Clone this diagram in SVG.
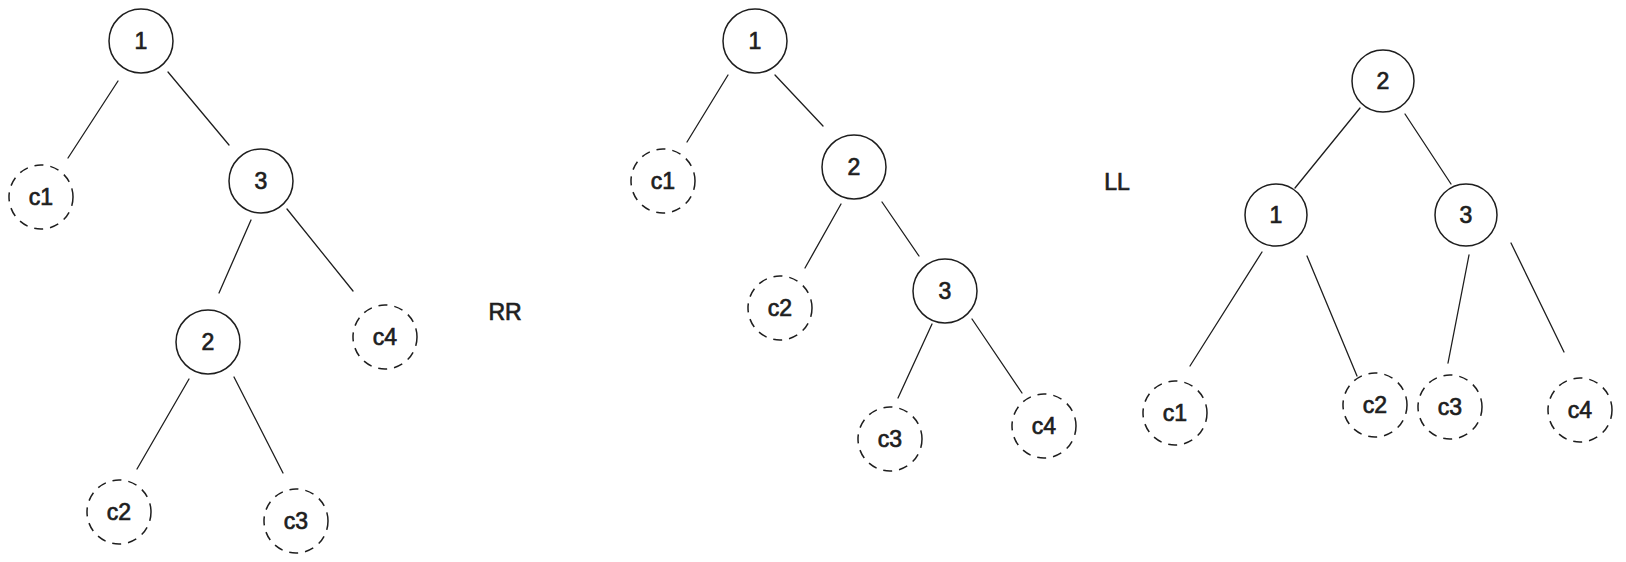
<svg xmlns="http://www.w3.org/2000/svg" width="1626" height="562" viewBox="0 0 1626 562">
<style>
.n{fill:#fff;stroke:#1e1e1e;stroke-width:1.5}
.d{fill:#fff;stroke:#1e1e1e;stroke-width:1.5;stroke-dasharray:9 7}
.e{stroke:#1e1e1e;stroke-width:1.3;fill:none;stroke-linecap:round}
text{font-family:"Liberation Sans","DejaVu Sans",sans-serif;font-size:23px;fill:#1e1e1e;stroke:#1e1e1e;stroke-width:0.7;text-anchor:middle}
</style>
<rect width="1626" height="562" fill="#fff"/>
<g id="connectors">
<line class="e" x1="118" y1="81" x2="68" y2="158"/>
<line class="e" x1="168" y1="72" x2="229" y2="145"/>
<line class="e" x1="251" y1="220" x2="219" y2="293"/>
<line class="e" x1="287" y1="209" x2="353" y2="291"/>
<line class="e" x1="189" y1="379" x2="137" y2="469"/>
<line class="e" x1="234" y1="377" x2="283" y2="473"/>
<line class="e" x1="728" y1="75" x2="687" y2="142"/>
<line class="e" x1="775" y1="75" x2="823" y2="126"/>
<line class="e" x1="841" y1="204" x2="805" y2="268"/>
<line class="e" x1="882" y1="202" x2="919" y2="256"/>
<line class="e" x1="932" y1="324" x2="898" y2="398"/>
<line class="e" x1="972" y1="319" x2="1022" y2="393"/>
<line class="e" x1="1360" y1="108" x2="1295" y2="188"/>
<line class="e" x1="1405" y1="114" x2="1451" y2="184"/>
<line class="e" x1="1262" y1="252" x2="1190" y2="366"/>
<line class="e" x1="1307" y1="256" x2="1357" y2="376"/>
<line class="e" x1="1469" y1="255" x2="1448" y2="363"/>
<line class="e" x1="1511" y1="243" x2="1564" y2="352"/>
</g>
<g id="t1-n1"><circle class="n" cx="141" cy="41" r="32"/><text x="141" y="49">1</text></g>
<g id="t1-c1"><circle class="d" cx="41" cy="197" r="32"/><text x="41" y="205">c1</text></g>
<g id="t1-n3"><circle class="n" cx="261" cy="181" r="32"/><text x="261" y="189">3</text></g>
<g id="t1-n2"><circle class="n" cx="208" cy="342" r="32"/><text x="208" y="350">2</text></g>
<g id="t1-c4"><circle class="d" cx="385" cy="337" r="32"/><text x="385" y="345">c4</text></g>
<g id="t1-c2"><circle class="d" cx="119" cy="512" r="32"/><text x="119" y="520">c2</text></g>
<g id="t1-c3"><circle class="d" cx="296" cy="521" r="32"/><text x="296" y="529">c3</text></g>
<g id="label-rr"><text x="505" y="320">RR</text></g>
<g id="t2-n1"><circle class="n" cx="755" cy="41" r="32"/><text x="755" y="49">1</text></g>
<g id="t2-c1"><circle class="d" cx="663" cy="181" r="32"/><text x="663" y="189">c1</text></g>
<g id="t2-n2"><circle class="n" cx="854" cy="167" r="32"/><text x="854" y="175">2</text></g>
<g id="t2-c2"><circle class="d" cx="780" cy="308" r="32"/><text x="780" y="316">c2</text></g>
<g id="t2-n3"><circle class="n" cx="945" cy="291" r="32"/><text x="945" y="299">3</text></g>
<g id="t2-c3"><circle class="d" cx="890" cy="439" r="32"/><text x="890" y="447">c3</text></g>
<g id="t2-c4"><circle class="d" cx="1044" cy="426" r="32"/><text x="1044" y="434">c4</text></g>
<g id="label-ll"><text x="1117" y="190">LL</text></g>
<g id="t3-n2"><circle class="n" cx="1383" cy="81" r="31"/><text x="1383" y="89">2</text></g>
<g id="t3-n1"><circle class="n" cx="1276" cy="215" r="31"/><text x="1276" y="223">1</text></g>
<g id="t3-n3"><circle class="n" cx="1466" cy="215" r="31"/><text x="1466" y="223">3</text></g>
<g id="t3-c1"><circle class="d" cx="1175" cy="413" r="32"/><text x="1175" y="421">c1</text></g>
<g id="t3-c2"><circle class="d" cx="1375" cy="405" r="32"/><text x="1375" y="413">c2</text></g>
<g id="t3-c3"><circle class="d" cx="1450" cy="407" r="32"/><text x="1450" y="415">c3</text></g>
<g id="t3-c4"><circle class="d" cx="1580" cy="410" r="32"/><text x="1580" y="418">c4</text></g>
</svg>
